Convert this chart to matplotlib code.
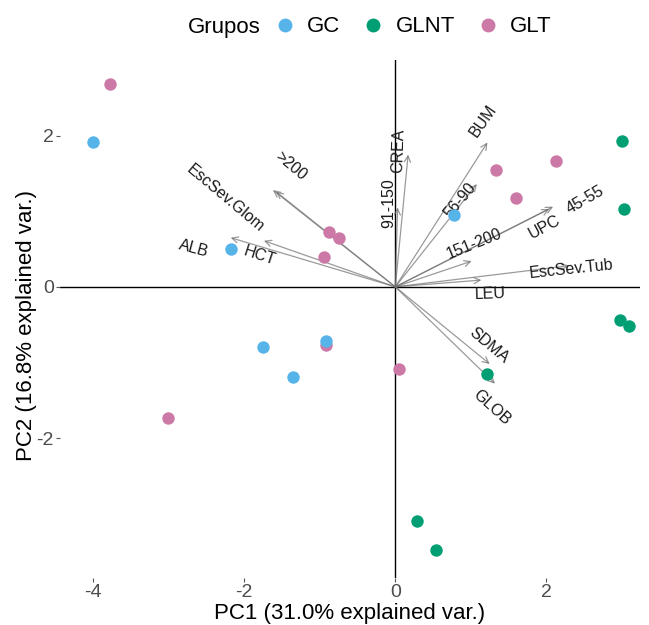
import numpy as np
import matplotlib.pyplot as plt
from matplotlib.lines import Line2D

plt.rcParams['font.family'] = ['Liberation Sans', 'DejaVu Sans']
plt.rcParams['axes.unicode_minus'] = False

# PCA scores by group
gc_pc1 = [-4.00, -2.18, -1.75, -1.36, -0.92, 0.78]
gc_pc2 = [1.91, 0.50, -0.79, -1.19, -0.72, 0.95]
glnt_pc1 = [3.00, 3.03, 2.97, 3.09, 1.22, 0.29, 0.54]
glnt_pc2 = [1.93, 1.03, -0.44, -0.52, -1.15, -3.10, -3.48]
glt_pc1 = [-3.78, -3.01, -0.88, -0.75, -0.95, -0.92, 0.05, 1.33, 2.13, 1.60]
glt_pc2 = [2.68, -1.73, 0.72, 0.65, 0.40, -0.77, -1.09, 1.54, 1.67, 1.17]

# variable loadings (arrow tips)
var_names = ['>200', 'EscSev.Glom', 'ALB', 'HCT', '91-150', 'CREA', 'BUM',
             '56-90', '45-55', 'UPC', '151-200', 'EscSev.Tub', 'LEU',
             'SDMA', 'GLOB']
var_pc1 = [-1.58, -1.62, -2.18, -1.74, 0.03, 0.17, 1.22, 1.08, 2.09, 2.04,
           1.01, 2.30, 1.14, 1.25, 1.32]
var_pc2 = [1.26, 1.28, 0.65, 0.61, 1.05, 1.75, 1.91, 1.36, 1.06, 1.03,
           0.34, 0.28, 0.09, -1.02, -1.28]
# where each variable name sits, and its angle
lab_pc1 = [-1.38, -2.25, -2.67, -1.80, -0.09, 0.04, 1.16, 0.86, 2.51, 1.97,
           1.05, 2.33, 1.26, 1.24, 1.28]
lab_pc2 = [1.60, 1.17, 0.50, 0.41, 1.11, 1.80, 2.19, 1.14, 1.15, 0.79,
           0.57, 0.23, -0.09, -0.77, -1.59]
lab_rot = [-40, -40, -15, -18, 90, 88, 55, 50, 30, 28, 22, 6, 2, -40, -42]

groups = ['GC', 'GLNT', 'GLT']
colors = {'GC': '#56B4E9', 'GLNT': '#009E73', 'GLT': '#CC79A7'}

fig = plt.figure(figsize=(6.49, 6.25), dpi=100)
ax = fig.add_axes([60 / 649, 1 - 578 / 625, 580 / 649, 518 / 625])
ax.set_xlim(-4.44, 3.24)
ax.set_ylim(-3.85, 3.0)

ax.axhline(0, color='black', lw=1.0, zorder=1)
ax.axvline(0, color='black', lw=1.0, zorder=1)

# arrows
for x, y in zip(var_pc1, var_pc2):
    ax.annotate('', xy=(x, y), xytext=(0, 0),
                arrowprops=dict(arrowstyle='->', color='#707070', lw=0.9,
                                alpha=0.7, mutation_scale=11,
                                shrinkA=0, shrinkB=0),
                zorder=2)

for name, x, y, r in zip(var_names, lab_pc1, lab_pc2, lab_rot):
    ax.text(x, y, name, rotation=r, rotation_mode='anchor', ha='center',
            va='center', fontsize=11.5, color='#1a1a1a', zorder=3)

# points
ax.scatter(glt_pc1, glt_pc2, s=80, color=colors['GLT'], linewidths=0, zorder=4)
ax.scatter(glnt_pc1, glnt_pc2, s=80, color=colors['GLNT'], linewidths=0, zorder=4)
ax.scatter(gc_pc1, gc_pc2, s=80, color=colors['GC'], linewidths=0, zorder=5)

for s in ax.spines.values():
    s.set_visible(False)
ax.set_xticks([-4, -2, 0, 2])
ax.set_yticks([-2, 0, 2])
ax.tick_params(length=3, width=0.8, color='#555555', labelcolor='#4d4d4d',
               labelsize=14, pad=1.5)
ax.set_xlabel('PC1 (31.0% explained var.)', fontsize=16, labelpad=1)
ax.set_ylabel('PC2 (16.8% explained var.)', fontsize=16)
ax.yaxis.set_label_coords(-0.040, 0.488)

# legend on top
fig.text(188 / 649, 1 - 27 / 625, 'Grupos', fontsize=16, ha='left', va='center')
handles = [Line2D([0], [0], marker='o', color='w', markerfacecolor=colors[g],
                  markeredgewidth=0, markersize=10, label=g) for g in groups]
fig.legend(handles=handles, ncol=3, loc='center left',
           bbox_to_anchor=(274 / 649, 1 - 27 / 625), frameon=False,
           fontsize=16, handlelength=1.0, handletextpad=0.49,
           columnspacing=0.99, borderaxespad=0, borderpad=0)

fig.savefig('out.png', dpi=100)
